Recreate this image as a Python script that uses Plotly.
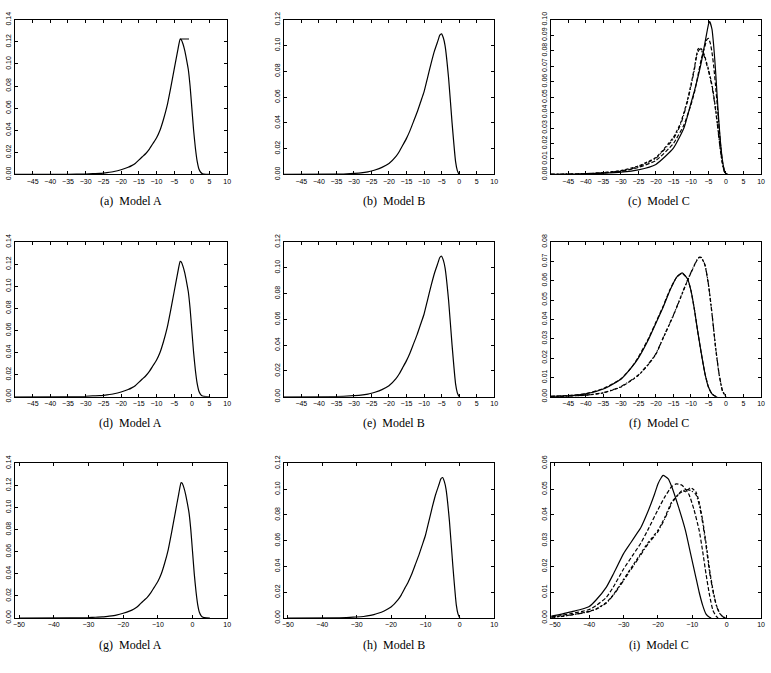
import plotly.graph_objects as go

# ---------------- data ----------------
# Model A (same model in rows 1-3)
A_x = [-50, -35, -30, -28, -26, -25, -24, -22, -20, -18, -17, -16, -15, -14, -13, -12, -11, -10, -9, -8,
       -7, -6, -5, -4, -3.3, -3, -2.5, -2, -1.5, -1, -0.5, 0, 0.5, 1, 1.5, 2, 2.5, 3, 4, 5]
A_y = [0, 0.0001, 0.0004, 0.0007, 0.001, 0.0013, 0.0017, 0.0027, 0.0043, 0.0065, 0.008, 0.010, 0.013, 0.016,
       0.019, 0.023, 0.028, 0.033, 0.040, 0.050, 0.062, 0.078, 0.095, 0.112, 0.1225, 0.122, 0.118, 0.112,
       0.104, 0.095, 0.08, 0.06, 0.04, 0.024, 0.012, 0.005, 0.002, 0.0007, 0.0001, 0]
A_flat_x = [-3.3, -0.8]
A_flat_y = [0.1226, 0.1226]

# Model B (same model in rows 1-3)
B_x = [-50, -35, -32, -30, -28, -26, -25, -24, -22, -20, -18, -17, -16, -15, -14, -13, -12, -11, -10, -9,
       -8, -7, -6, -5.5, -5, -4.5, -4, -3, -2, -1, -0.5, 0]
B_y = [0, 0.0002, 0.0005, 0.0008, 0.0012, 0.002, 0.0027, 0.0035, 0.0055, 0.0085, 0.014, 0.018, 0.023,
       0.028, 0.034, 0.041, 0.048, 0.056, 0.064, 0.075, 0.086, 0.096, 0.104, 0.108, 0.109, 0.106, 0.1,
       0.075, 0.04, 0.01, 0.003, 0]

# Model C, row 1
C1_x = [-50, -40, -35, -30, -25, -20, -15, -12, -10, -9, -8, -7, -6, -5, -4.7, -4, -3.5, -3, -2.5, -2,
        -1.5, -1, -0.5, 0, 0.5]
C1_solid = [0, 0.0003, 0.0008, 0.0015, 0.003, 0.0065, 0.017, 0.03, 0.046, 0.054, 0.063, 0.073, 0.085,
            0.097, 0.099, 0.094, 0.083, 0.068, 0.05, 0.033, 0.019, 0.009, 0.003, 0.0005, 0]
C1_x2 = [-50, -40, -35, -30, -25, -20, -15, -12, -10, -9, -8, -7, -6, -5.5, -5, -4.5, -4, -3.5, -3, -2.5,
         -2, -1.5, -1, -0.5, 0, 0.5]
C1_dash = [0, 0.0004, 0.001, 0.002, 0.0045, 0.009, 0.02, 0.032, 0.045, 0.053, 0.064, 0.075, 0.083, 0.087,
           0.088, 0.085, 0.079, 0.07, 0.058, 0.045, 0.031, 0.018, 0.008, 0.003, 0.0005, 0]
C1_x3 = [-50, -40, -35, -30, -25, -20, -15, -13, -12, -11, -10, -9, -8.5, -8, -7.5, -7, -6.5, -6, -5.5,
         -5, -4, -3.5, -3, -2.5, -2, -1.5, -1, -0.5, 0, 0.5]
C1_dash2 = [0, 0.0005, 0.0012, 0.0025, 0.0055, 0.011, 0.024, 0.033, 0.04, 0.048, 0.058, 0.069, 0.076,
            0.081, 0.082, 0.081, 0.079, 0.076, 0.072, 0.068, 0.058, 0.051, 0.043, 0.034, 0.024, 0.014,
            0.007, 0.002, 0.0005, 0]
C1_dashdot = [0, 0.0005, 0.0011, 0.0023, 0.005, 0.0105, 0.023, 0.032, 0.039, 0.047, 0.057, 0.068, 0.075,
              0.079, 0.081, 0.08, 0.078, 0.075, 0.071, 0.067, 0.057, 0.05, 0.042, 0.033, 0.023, 0.014,
              0.007, 0.002, 0.0005, 0]

# Model C, row 2
F_x1 = [-50, -45, -40, -35, -30, -27, -25, -22, -20, -18, -16, -14, -12.5, -11, -10, -9, -8, -7, -6, -5,
        -4, -3, -2.5]
F_solid = [0.0002, 0.0005, 0.0015, 0.004, 0.009, 0.015, 0.02, 0.03, 0.038, 0.046, 0.055, 0.062, 0.064,
           0.061, 0.055, 0.045, 0.033, 0.022, 0.012, 0.005, 0.0015, 0.0002, 0]
F_dash1 = [0.0002, 0.0006, 0.0016, 0.0042, 0.0092, 0.015, 0.0205, 0.0305, 0.0385, 0.0465, 0.0553, 0.062,
           0.0638, 0.061, 0.055, 0.045, 0.033, 0.022, 0.012, 0.005, 0.0015, 0.0002, 0]
F_x2 = [-50, -45, -40, -35, -30, -25, -22, -20, -18, -15, -13, -11, -9, -8, -7.5, -7, -6, -5, -4, -3, -2,
        -1, 0]
F_dash2 = [0.0001, 0.0003, 0.0008, 0.002, 0.005, 0.011, 0.017, 0.022, 0.03, 0.042, 0.051, 0.06, 0.068,
           0.0715, 0.072, 0.0718, 0.068, 0.058, 0.043, 0.026, 0.012, 0.003, 0]
F_dash3 = [0.0001, 0.0003, 0.0008, 0.0021, 0.0052, 0.0112, 0.0172, 0.0222, 0.0302, 0.0422, 0.0512, 0.0602,
           0.0682, 0.0717, 0.0722, 0.072, 0.0682, 0.0582, 0.0432, 0.0262, 0.0122, 0.003, 0]

# Model C, row 3
I_x1 = [-51, -48, -45, -42, -40, -38, -35, -33, -30, -28, -26, -25, -23, -21, -20, -19, -18.5, -17, -16,
        -14, -12, -10.5, -9, -8, -7, -6, -5, -4.5]
I_solid = [0.0008, 0.0015, 0.0025, 0.0035, 0.0045, 0.007, 0.012, 0.017, 0.025, 0.029, 0.033, 0.035,
           0.041, 0.048, 0.052, 0.0545, 0.0553, 0.054, 0.051, 0.043, 0.034, 0.025, 0.016, 0.01, 0.005,
           0.0015, 0.0003, 0]
I_x2 = [-51, -48, -45, -42, -40, -38, -35, -33, -30, -27, -25, -23, -20, -18, -16, -14.7, -13, -11, -9.5,
        -8, -7, -6, -5, -4, -3, -2.5]
I_dash1 = [0.0005, 0.001, 0.0018, 0.0026, 0.0033, 0.0048, 0.008, 0.012, 0.019, 0.025, 0.029, 0.034,
           0.042, 0.047, 0.051, 0.052, 0.0515, 0.048, 0.042, 0.034, 0.026, 0.017, 0.009, 0.003, 0.0006, 0]
I_x3 = [-51, -48, -45, -42, -40, -38, -35, -33, -30, -27, -25, -23, -20, -18, -16, -14, -13, -12, -10.5,
        -9, -8, -7, -6, -5, -4, -3, -2, -1, -0.3]
I_dash2 = [0.0003, 0.0007, 0.0013, 0.002, 0.0026, 0.0035, 0.006, 0.009, 0.015, 0.021, 0.025, 0.029,
           0.034, 0.039, 0.045, 0.048, 0.0495, 0.049, 0.0505, 0.049, 0.045, 0.038, 0.029, 0.019, 0.011,
           0.005, 0.0018, 0.0004, 0]
I_dash3 = [0.0003, 0.0006, 0.0012, 0.0019, 0.0025, 0.0034, 0.0058, 0.0088, 0.0145, 0.0205, 0.0245,
           0.0285, 0.0335, 0.0385, 0.0445, 0.048, 0.049, 0.0498, 0.0495, 0.048, 0.044, 0.037, 0.028, 0.018,
           0.0105, 0.0048, 0.0017, 0.0004, 0]

CAPTIONS = ["(a)  Model A", "(b)  Model B", "(c)  Model C",
            "(d)  Model A", "(e)  Model B", "(f)  Model C",
            "(g)  Model A", "(h)  Model B", "(i)  Model C"]
Y_MAX = [0.14, 0.12, 0.10, 0.14, 0.12, 0.08, 0.14, 0.12, 0.06]
Y_STEP = [0.02, 0.02, 0.01, 0.02, 0.02, 0.01, 0.02, 0.02, 0.01]
X_TICKS_12 = [-45, -40, -35, -30, -25, -20, -15, -10, -5, 0, 5, 10]
X_TICKS_3 = [-50, -40, -30, -20, -10, 0, 10]

# ---------------- layout geometry ----------------
W, H = 771, 673
COLS = [(13, 227), (284, 496), (553, 765)]
ROWS = [(12, 170), (239, 397), (465, 623)]
CAP_X = [130, 395, 662]
CAP_Y = [197, 424, 651]

LW = 1.2
SOLID = dict(color="black", width=LW, shape="spline", smoothing=0.5)
DASH = dict(color="black", width=LW, dash="4px,2px", shape="spline", smoothing=0.5)
DASH2 = dict(color="black", width=LW, dash="3px,2px", shape="spline", smoothing=0.5)
DASHDOT = dict(color="black", width=LW, dash="4px,2px,1px,2px", shape="spline", smoothing=0.5)
FLAT = dict(color="black", width=LW)

panels = [
    [(A_x, A_y, SOLID), (A_flat_x, A_flat_y, FLAT)],
    [(B_x, B_y, SOLID)],
    [(C1_x, C1_solid, SOLID), (C1_x2, C1_dash, DASH), (C1_x3, C1_dash2, DASH2), (C1_x3, C1_dashdot, DASHDOT)],
    [(A_x, A_y, SOLID)],
    [(B_x, B_y, SOLID)],
    [(F_x1, F_solid, SOLID), (F_x1, F_dash1, DASH), (F_x2, F_dash2, DASH2), (F_x2, F_dash3, DASHDOT)],
    [(A_x, A_y, SOLID)],
    [(B_x, B_y, SOLID)],
    [(I_x1, I_solid, SOLID), (I_x2, I_dash1, DASH), (I_x3, I_dash2, DASH2), (I_x3, I_dash3, DASHDOT)],
]

fig = go.Figure()
layout = dict(width=W, height=H, margin=dict(l=0, r=0, t=0, b=0),
              paper_bgcolor="white", plot_bgcolor="white", showlegend=False,
              font=dict(family="Liberation Sans, Arial, sans-serif", size=7, color="black"))
annotations = []
for k in range(9):
    r, c = divmod(k, 3)
    n = k + 1
    xa = "xaxis" if n == 1 else f"xaxis{n}"
    ya = "yaxis" if n == 1 else f"yaxis{n}"
    xref = "x" if n == 1 else f"x{n}"
    yref = "y" if n == 1 else f"y{n}"
    for (xs, ys, ln) in panels[k]:
        fig.add_trace(go.Scatter(x=xs, y=ys, mode="lines", line=ln, xaxis=xref, yaxis=yref,
                                 hoverinfo="skip", cliponaxis=True))
    x0, x1 = COLS[c]
    y0, y1 = ROWS[r]
    if r < 2:
        xr = [-50, 10]
        xt = X_TICKS_12
    else:
        xr = [-51.2, 10]
        xt = X_TICKS_3
    nt = int(round(Y_MAX[k] / Y_STEP[k]))
    yt = [round(i * Y_STEP[k], 2) for i in range(nt + 1)]
    ytxt = [f"{v:.2f}" for v in yt]
    xtxt = [("\u2212" + str(-v)) if v < 0 else str(v) for v in xt]
    layout[xa] = dict(domain=[x0 / W, x1 / W], range=xr, anchor=yref, tickvals=xt, ticktext=xtxt,
                      ticks="inside", ticklen=3, tickwidth=0.8, tickcolor="black",
                      showline=True, linecolor="black", linewidth=1, mirror="ticks",
                      showgrid=False, zeroline=False, tickfont=dict(size=7, color="black"))
    layout[ya] = dict(domain=[1 - y1 / H, 1 - y0 / H], range=[0, Y_MAX[k]], anchor=xref, tickvals=yt,
                      ticktext=ytxt, tickangle=-90,
                      ticks="inside", ticklen=3, tickwidth=0.8, tickcolor="black",
                      showline=True, linecolor="black", linewidth=1, mirror="ticks",
                      showgrid=False, zeroline=False, tickfont=dict(size=7, color="black"))
    annotations.append(dict(text=CAPTIONS[k], x=CAP_X[c] / W, y=1 - CAP_Y[r] / H, xref="paper",
                            yref="paper", showarrow=False, xanchor="center", yanchor="middle",
                            font=dict(family="Liberation Serif, DejaVu Serif, serif", size=12,
                                      color="black")))
layout["annotations"] = annotations
fig.update_layout(**layout)
fig.write_html("out.html")
